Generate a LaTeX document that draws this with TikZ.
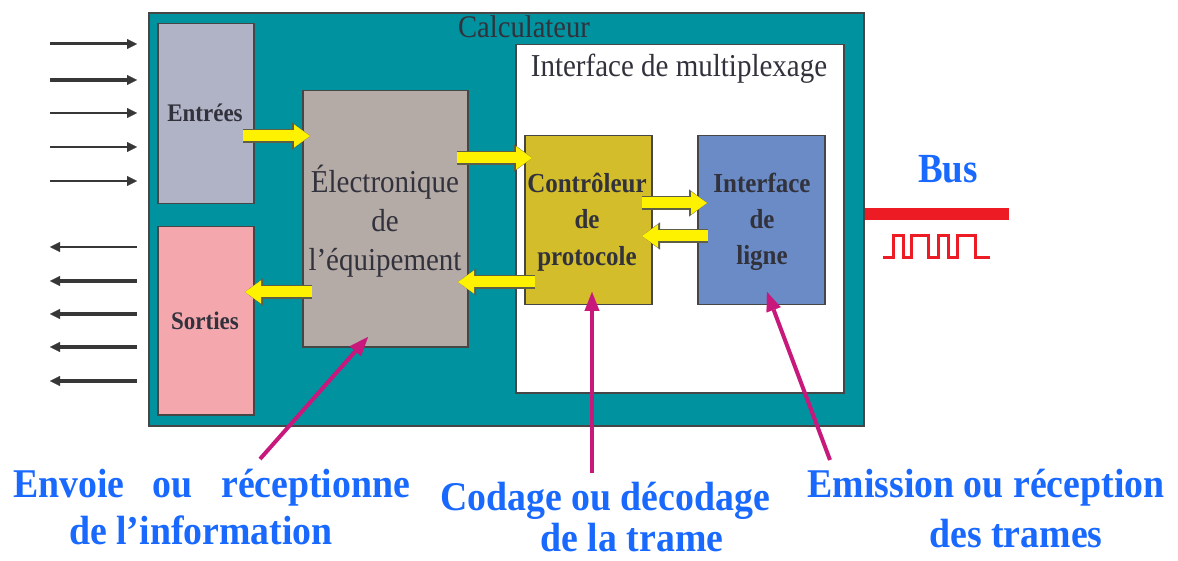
\documentclass[tikz,border=0pt]{standalone}
\usepackage{fontspec}
\setmainfont{Liberation Serif}
\usetikzlibrary{arrows.meta,calc}
\definecolor{tealc}{RGB}{0,146,158}
\definecolor{boxline}{RGB}{70,70,70}
\definecolor{entc}{RGB}{176,179,197}
\definecolor{sorc}{RGB}{244,168,174}
\definecolor{elecc}{RGB}{180,170,166}
\definecolor{ctrlc}{RGB}{212,189,42}
\definecolor{ligc}{RGB}{106,139,198}
\definecolor{txtc}{RGB}{50,50,60}
\definecolor{bluec}{RGB}{25,105,255}
\definecolor{redc}{RGB}{237,28,36}
\definecolor{magc}{RGB}{200,24,123}
\definecolor{yellowc}{RGB}{255,242,0}
\definecolor{youtc}{RGB}{95,95,70}
\definecolor{darkc}{RGB}{55,55,55}
\begin{document}
\begin{tikzpicture}[x=1pt,y=-1pt,
  box/.style={draw=boxline, line width=1.5pt, anchor=north west, inner sep=0pt},
  lbl/.style={text=txtc, inner sep=0pt, yscale=1.1},
  blbl/.style={text=bluec, inner sep=0pt, yscale=1.08, font=\bfseries\fontsize{37.8}{40}\selectfont},
  yarr/.style={draw=yellowc, line width=11pt, -{Triangle[length=16pt,width=23pt,line width=0.1pt]},
    preaction={draw=youtc, line width=13.4pt, -{Triangle[length=18pt,width=27pt,line width=0.1pt]}}},
  barr/.style={draw=darkc, -{Triangle[length=10pt,width=10pt,line width=0.1pt]}},
  marr/.style={draw=magc, line width=4pt, -{Triangle[length=19pt,width=15pt,line width=0.1pt]}}]
\useasboundingbox (0,0) rectangle (1178,561);

% boxes
\node[box, fill=tealc, line width=2pt, minimum width=715pt, minimum height=413pt] (calc) at (148,12) {};
\node[box, fill=entc, minimum width=96pt, minimum height=180pt] (ent) at (157,23) {};
\node[box, fill=sorc, minimum width=96pt, minimum height=188pt] (sor) at (157,226) {};
\node[box, fill=elecc, minimum width=165pt, minimum height=256pt] (elec) at (302,90) {};
\node[box, fill=white, minimum width=328pt, minimum height=348pt] (mux) at (515,44) {};
\node[box, fill=ctrlc, minimum width=127pt, minimum height=169pt] (ctrl) at (524,135) {};
\node[box, fill=ligc, minimum width=127pt, minimum height=169pt] (lig) at (697,135) {};

% box texts
\node[lbl, anchor=base, font=\fontsize{28.6}{30}\selectfont] (calct) at (524,38) {Calculateur};
\node[lbl, anchor=base, font=\fontsize{29}{30}\selectfont] (muxt) at (679,77) {Interface de multiplexage};
\node[lbl, align=center, font=\fontsize{29}{35.5}\selectfont] (elect) at (385,221) {Électronique\\de\\l’équipement};
\node[lbl, anchor=base, font=\bfseries\fontsize{23}{24}\selectfont] (entt) at (205,122) {Entrées};
\node[lbl, anchor=base, font=\bfseries\fontsize{23}{24}\selectfont] (sort) at (205,330) {Sorties};
\node[lbl, align=center, font=\bfseries\fontsize{25}{33}\selectfont] (ctrlt) at (587,222) {Contrôleur\\de\\protocole};
\node[lbl, align=center, font=\bfseries\fontsize{25}{33}\selectfont] (ligt) at (762,222) {Interface\\de\\ligne};

% yellow block arrows
\coordinate (y1a) at (243,136); \coordinate (y1b) at (310,136);
\coordinate (y2a) at (457,158); \coordinate (y2b) at (532,158);
\coordinate (y3a) at (642,203); \coordinate (y3b) at (707,203);
\coordinate (y4a) at (708,236); \coordinate (y4b) at (642,236);
\coordinate (y5a) at (535,282); \coordinate (y5b) at (458,282);
\coordinate (y6a) at (312,292); \coordinate (y6b) at (245,292);
\foreach \i in {1,...,6} {\draw[yarr] (y\i a) -- (y\i b);}

% black input / output arrows
\foreach \y/\w [count=\i] in {44/3,80/3.4,113/2.6,147/2.2,181/1.7} {
  \coordinate (in\i a) at (50,\y); \coordinate (in\i b) at (137,\y);
  \draw[barr, line width=\w pt] (in\i a) -- (in\i b);}
\foreach \y/\w [count=\i] in {247/2.8,281/3.4,314/3.4,347/3.4,381/3.4} {
  \coordinate (out\i a) at (137,\y); \coordinate (out\i b) at (50,\y);
  \draw[barr, line width=\w pt] (out\i a) -- (out\i b);}

% bus
\node[anchor=base, inner sep=0pt, yscale=1.12, text=bluec, font=\bfseries\fontsize{37}{40}\selectfont] (bus) at (948,183) {Bus};
\coordinate (busR) at (1009,214);
\draw[redc, line width=12pt] (calc.east |- busR) -- (busR);
\draw[redc, line width=3pt, line join=miter] (883,258) -- (893,258) -- (893,236) -- (903,236) -- (903,258) -- (911,258) -- (911,236) -- (928,236) -- (928,258) -- (938,258) -- (938,236) -- (948,236) -- (948,258) -- (957,258) -- (957,236) -- (975,236) -- (975,258) -- (990,258);

% bottom labels
\node[blbl, anchor=base west] (l1a) at (13,497) {\makebox[397pt]{Envoie\hfill ou\hfill réceptionne}};
\node[blbl, anchor=base] (l1b) at (201,544) {de l’information};
\node[blbl, anchor=base] (l2a) at (605,510) {Codage ou décodage};
\node[blbl, anchor=base] (l2b) at (632,551) {de la trame};
\node[blbl, anchor=base] (l3a) at (986,497) {Emission ou réception};
\node[blbl, anchor=base] (l3b) at (1016,547) {des trames};

% magenta pointers
\coordinate (m1a) at (260,459); \coordinate (m1b) at (368,337);
\coordinate (m2a) at (592,473); \coordinate (m2b) at (592,292);
\coordinate (m3a) at (830,460); \coordinate (m3b) at (767,292);
\draw[marr] (m1a) -- (m1b);
\draw[marr] (m2a) -- (m2b);
\draw[marr] (m3a) -- (m3b);
\end{tikzpicture}
\end{document}
